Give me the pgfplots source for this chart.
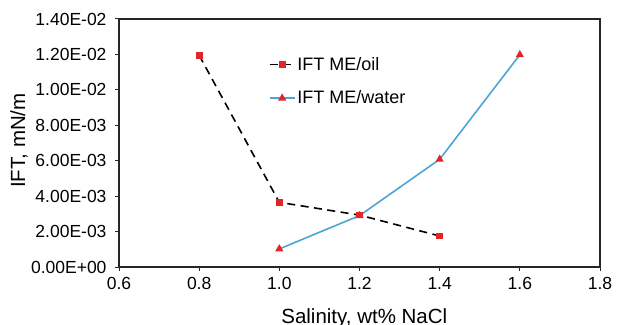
\documentclass[border=0pt]{standalone}
\usepackage{fontspec}
\setmainfont{Liberation Sans}
\usepackage{pgfplots}
\pgfplotsset{compat=1.18}
\definecolor{mkred}{RGB}{224,38,38}
\definecolor{lblue}{RGB}{75,165,215}
\begin{document}
\begin{tikzpicture}
\path[use as bounding box] (0,0) rectangle (617bp,325bp);
\begin{axis}[
 at={(119bp,58bp)}, anchor=south west,
 scale only axis, width=481bp, height=248bp,
 xmin=0.6, xmax=1.8, ymin=0, ymax=0.014,
 xtick={0.6,0.8,1.0,1.2,1.4,1.6,1.8},
 xticklabels={0.6,0.8,1.0,1.2,1.4,1.6,1.8},
 ytick={0,0.002,0.004,0.006,0.008,0.01,0.012,0.014},
 yticklabels={0.00E+00,2.00E-03,4.00E-03,6.00E-03,8.00E-03,1.00E-02,1.20E-02,1.40E-02},
 scaled y ticks=false,
 tick align=outside, major tick length=4bp,
 xtick pos=bottom, ytick pos=left,
 axis line style={line width=1.2bp, black!85},
 tick style={line width=1bp, black!85},
 tick label style={font=\fontsize{17.5bp}{20bp}\selectfont},
 yticklabel style={xshift=-5bp},
 xticklabel style={yshift=-3bp},
 xlabel={Salinity, wt\% NaCl},
 ylabel={IFT, mN/m},
 label style={font=\fontsize{20.5bp}{24bp}\selectfont},
 xlabel style={at={(axis description cs:0.51,-0.2298)}, anchor=base},
 ylabel style={at={(axis description cs:-0.1954,0.51)}, anchor=base, rotate=0},
 legend style={at={(rel axis cs:0.305,0.862)}, anchor=north west, draw=none, fill=none,
   font=\fontsize{18bp}{21bp}\selectfont, row sep=15bp},
 legend cell align=left,
 legend image code/.code={\draw[mark repeat=2,mark phase=2,#1] plot coordinates {(0cm,0cm)(0.44cm,0cm)(0.88cm,0cm)};},
]
\addplot[black, line width=1.6bp, dash pattern=on 8bp off 5.5bp,
  mark=square*, mark size=2.6bp, mark options={solid, draw=mkred, fill=mkred}]
  coordinates {(0.8,0.01195) (1.0,0.00365) (1.2,0.00293) (1.4,0.00175)};
\addlegendentry{IFT ME/oil}
\addplot[lblue, line width=1.6bp,
  mark=triangle*, mark size=3.2bp, mark options={solid, draw=mkred, fill=mkred}]
  coordinates {(1.0,0.00102) (1.2,0.0029) (1.4,0.00608) (1.6,0.01198)};
\addlegendentry{IFT ME/water}
\end{axis}
\end{tikzpicture}
\end{document}
